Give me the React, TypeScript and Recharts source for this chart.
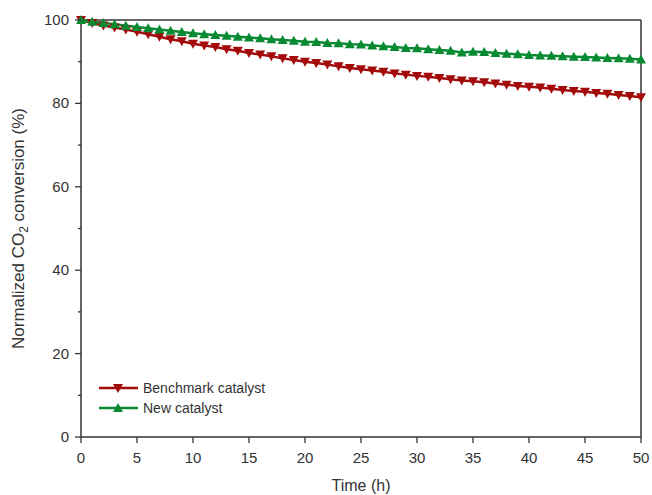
import { LineChart, Line, XAxis, YAxis, ReferenceLine } from "recharts"

const hours = Array.from({ length: 51 }, (_, i) => i)

const benchmark = [
  100, 99.3, 98.7, 98.2, 97.7, 97.2, 96.6, 96.0, 95.4, 94.9,
  94.3, 93.9, 93.5, 93.0, 92.6, 92.1, 91.7, 91.3, 90.8, 90.4,
  90.0, 89.7, 89.3, 88.9, 88.5, 88.2, 87.9, 87.6, 87.2, 86.9,
  86.6, 86.4, 86.1, 85.8, 85.5, 85.3, 85.1, 84.8, 84.5, 84.2,
  84.0, 83.8, 83.5, 83.2, 83.0, 82.8, 82.5, 82.3, 82.0, 81.8,
  81.5,
]

const newCatalyst = [
  100, 99.6, 99.3, 99.0, 98.6, 98.3, 98.0, 97.7, 97.4, 97.1,
  96.8, 96.6, 96.4, 96.2, 96.0, 95.8, 95.6, 95.4, 95.2, 95.0,
  94.8, 94.7, 94.5, 94.4, 94.2, 94.1, 93.9, 93.7, 93.5, 93.3,
  93.2, 93.0, 92.8, 92.6, 92.2, 92.4, 92.3, 92.1, 91.9, 91.8,
  91.6, 91.5, 91.4, 91.3, 91.2, 91.1, 91.0, 90.9, 90.8, 90.7,
  90.5,
]

const xTicks = [0, 5, 10, 15, 20, 25, 30, 35, 40, 45, 50]
const yTicks = [0, 10, 20, 30, 40, 50, 60, 70, 80, 90, 100]
const yLabeled = [0, 20, 40, 60, 80, 100]

const data = hours.map((h, i) => ({ h, bench: benchmark[i], fresh: newCatalyst[i] }))

const RED = "#A30A0A"
const GREEN = "#088A33"
const AXIS = "#333333"
const FONT = "'Liberation Sans', Arial, sans-serif"

function DownTri(props: any) {
  const { cx, cy, index } = props
  if (cx == null || cy == null) return <g key={index} />
  return (
    <polygon
      key={index}
      points={`${cx - 5},${cy - 4} ${cx + 5},${cy - 4} ${cx},${cy + 5}`}
      fill={RED}
    />
  )
}

function UpTri(props: any) {
  const { cx, cy, index } = props
  if (cx == null || cy == null) return <g key={index} />
  return (
    <polygon
      key={index}
      points={`${cx - 5},${cy + 4} ${cx + 5},${cy + 4} ${cx},${cy - 5}`}
      fill={GREEN}
    />
  )
}

function YTick(props: any) {
  const { x, y, payload } = props
  const major = yLabeled.includes(payload.value)
  return (
    <g>
      <line x1={x - (major ? 6 : 3)} x2={x} y1={y} y2={y} stroke={AXIS} strokeWidth={1.3} />
      {major && (
        <text x={x - 12} y={y + 5} textAnchor="end" fill={AXIS} fontSize={15} fontFamily={FONT}>
          {payload.value}
        </text>
      )}
    </g>
  )
}

function XTick(props: any) {
  const { x, y, payload } = props
  return (
    <g>
      <line x1={x} x2={x} y1={y} y2={y + 6} stroke={AXIS} strokeWidth={1.3} />
      <text x={x} y={y + 26} textAnchor="middle" fill={AXIS} fontSize={15} fontFamily={FONT}>
        {payload.value}
      </text>
    </g>
  )
}

function YTitle(props: any) {
  const vb = props.viewBox
  const cy = vb.y + vb.height / 2
  const cx = 24
  return (
    <text
      x={cx}
      y={cy}
      transform={`rotate(-90, ${cx}, ${cy})`}
      textAnchor="middle"
      fill={AXIS}
      fontSize={17}
      fontFamily={FONT}
    >
      Normalized CO
      <tspan fontSize={12} dy={4}>2</tspan>
      <tspan dy={-4}> conversion (%)</tspan>
    </text>
  )
}

const legendRows = [
  { name: "Benchmark catalyst", color: RED, down: true },
  { name: "New catalyst", color: GREEN, down: false },
]

function LegendBox() {
  return (
    <div
      style={{
        position: "absolute",
        left: 99,
        top: 378,
        fontFamily: FONT,
        fontSize: 14,
        lineHeight: "18px",
        color: AXIS,
      }}
    >
      {legendRows.map((r) => (
        <div key={r.name} style={{ display: "flex", alignItems: "center", height: 20 }}>
          <svg width={42} height={14} style={{ marginRight: 2 }}>
            <line x1={0} x2={39} y1={7} y2={7} stroke={r.color} strokeWidth={2.5} />
            {r.down ? (
              <polygon points="14,3 24,3 19,12" fill={r.color} />
            ) : (
              <polygon points="14,11 24,11 19,2" fill={r.color} />
            )}
          </svg>
          <span>{r.name}</span>
        </div>
      ))}
    </div>
  )
}

export default function App() {
  return (
    <div style={{ position: "absolute", left: 0, top: 0, width: 652, height: 495, background: "#fff" }}>
      <LineChart
        width={652}
        height={495}
        data={data}
        margin={{ top: 20, right: 11, left: 0, bottom: 0 }}
      >
        <XAxis
          dataKey="h"
          type="number"
          domain={[0, 50]}
          ticks={xTicks}
          height={58}
          axisLine={{ stroke: AXIS, strokeWidth: 1.5 }}
          tickLine={false}
          tickSize={0}
          tickMargin={0}
          tick={<XTick />}
          label={{
            value: "Time (h)",
            position: "insideBottom",
            offset: 4,
            fill: AXIS,
            fontSize: 16,
            fontFamily: FONT,
          }}
        />
        <YAxis
          type="number"
          domain={[0, 100]}
          ticks={yTicks}
          width={81}
          interval={0}
          axisLine={{ stroke: AXIS, strokeWidth: 1.5 }}
          tickLine={false}
          tickSize={0}
          tickMargin={0}
          tick={<YTick />}
          label={<YTitle />}
        />
        <ReferenceLine y={100} stroke={AXIS} strokeWidth={1.5} />
        <ReferenceLine x={50} stroke={AXIS} strokeWidth={1.5} />
        <Line
          dataKey="bench"
          name="Benchmark catalyst"
          stroke={RED}
          strokeWidth={2.5}
          dot={<DownTri />}
          activeDot={false}
          isAnimationActive={false}
        />
        <Line
          dataKey="fresh"
          name="New catalyst"
          stroke={GREEN}
          strokeWidth={2.5}
          dot={<UpTri />}
          activeDot={false}
          isAnimationActive={false}
        />
      </LineChart>
      <LegendBox />
    </div>
  )
}
